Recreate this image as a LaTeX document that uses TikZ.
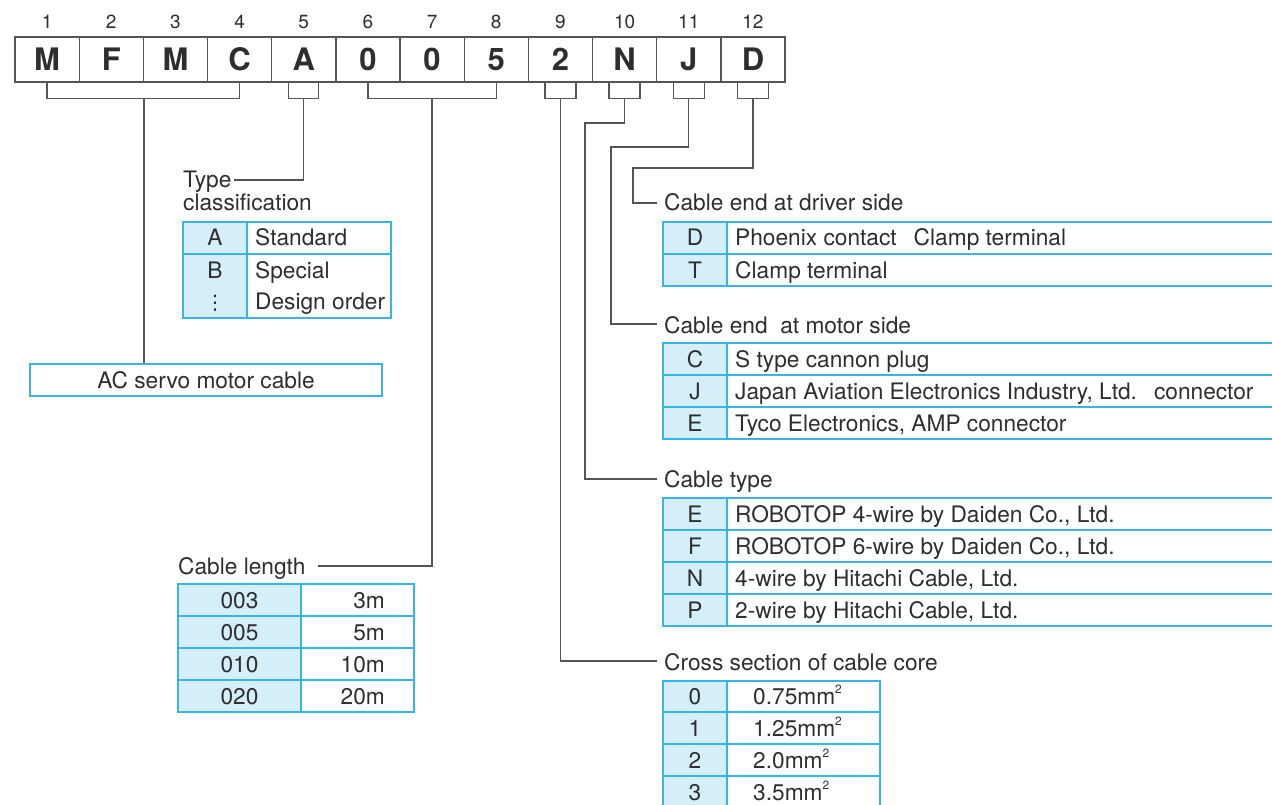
\documentclass[tikz,border=0pt]{standalone}
\usepackage{fontspec}
\setmainfont{TeX Gyre Heros}
\newfontfamily\dejavu{DejaVu Sans}
\definecolor{txt}{HTML}{2E2E2E}
\definecolor{ln}{HTML}{555555}
\definecolor{bd}{HTML}{38B4E8}
\definecolor{fl}{HTML}{D4EEFA}
\tikzset{
 conn/.style={draw=ln, line width=1.3pt},
 lbl/.style={anchor=base west, inner sep=0pt, text=txt, font=\fontsize{22.7}{26}\selectfont},
 keyt/.style={anchor=base, inner sep=0pt, text=txt, font=\fontsize{22.7}{26}\selectfont},
 valr/.style={anchor=base east, inner sep=0pt, text=txt, font=\fontsize{22.7}{26}\selectfont},
 codebox/.style={draw=ln, line width=1.3pt, minimum width=64.17pt, minimum height=45pt, inner sep=0pt, text=txt, font=\fontsize{31}{36}\selectfont\bfseries},
 numl/.style={inner sep=0pt, text=txt, font=\fontsize{19}{22}\selectfont},
 tbl/.style={draw=bd, line width=1.3pt},
}
\begin{document}
\begin{tikzpicture}[x=1pt,y=-1pt]
\useasboundingbox (0,0) rectangle (1272,805);
% code boxes
\foreach \i/\l in {1/M,2/F,3/M,4/C,5/A,6/0,7/0,8/5,9/2,10/N,11/J,12/D}{
  \node[codebox] (c\i) at ({15+(\i-0.5)*64.17},59.5) {\l};
  \node[numl] (n\i) at ({15+(\i-0.5)*64.17},22) {\i};
}
% brackets
\draw[conn] (c1.south) -- ++(0,16) -| (c4.south);
\draw[conn] ([xshift=-15pt]c5.south) -- ++(0,16) -| ([xshift=15pt]c5.south);
\draw[conn] (c6.south) -- ++(0,16) -| (c8.south);
\foreach \i in {9,10,11,12}{
  \draw[conn] ([xshift=-15.5pt]c\i.south) -- ++(0,16) -| ([xshift=15.5pt]c\i.south);
}
\coordinate (s14) at ([yshift=-16pt]c2.south east);
\coordinate (s5) at ([yshift=-16pt]c5.south);
\coordinate (s68) at ([yshift=-16pt]c7.south);
\coordinate (s9) at ([yshift=-16pt]c9.south);
\coordinate (s10) at ([yshift=-16pt]c10.south);
\coordinate (s11) at ([yshift=-16pt]c11.south);
\coordinate (s12) at ([yshift=-16pt]c12.south);

% AC servo motor cable
\node[draw=bd, line width=1.3pt, minimum width=352pt, minimum height=32pt, inner sep=0pt, text=txt, font=\fontsize{22.7}{26}\selectfont] (ac) at (206,380) {AC servo motor cable};
\draw[conn] (s14) -- (s14 |- ac.north);

% Type classification
\node[lbl] (typeL) at (183,188) {Type};
\node[lbl] (classL) at (183,211) {classification};
\coordinate (t5) at (234,180);
\draw[conn] (s5) |- (t5);
\fill[fl] (183,222) rectangle (247,318);
\draw[tbl] (183,222) rectangle (391,318);
\draw[tbl] (183,254) -- (391,254) (247,222) -- (247,318);
\node[keyt] (tA) at (215,246) {A};
\node[keyt] (tB) at (215,278) {B};
\node[keyt, font=\fontsize{20}{24}\dejavu] (tD) at (215,309) {⋮};
\node[lbl] (tAv) at (255,246) {Standard};
\node[lbl] (tBv) at (255,278) {Special};
\node[lbl] (tDv) at (255,309) {Design order};

% Cable length
\node[lbl] (lenL) at (178,574) {Cable length};
\coordinate (t68) at (318,566);
\draw[conn] (s68) |- (t68);
\fill[fl] (178,584) rectangle (301,712);
\draw[tbl] (178,584) rectangle (414,712);
\draw[tbl] (178,616) -- (414,616) (178,648) -- (414,648) (178,680) -- (414,680) (301,584) -- (301,712);
\foreach \k/\v/\y [count=\j] in {003/3m/608,005/5m/640,010/10m/672,020/20m/704}{
  \node[keyt] (lk\j) at (239.5,\y) {\k};
  \node[valr] (lv\j) at (385,\y) {\v};
}

% Driver side
\node[lbl] (drvL) at (664,211) {Cable end at driver side};
\coordinate (t12a) at (633,168);
\coordinate (t12) at (657,203);
\draw[conn] (s12) |- (t12a) |- (t12);
\fill[fl] (663,222) rectangle (727,286);
\draw[tbl] (663,222) rectangle (1280,286);
\draw[tbl] (663,254) -- (1280,254) (727,222) -- (727,286);
\node[keyt] (dk1) at (695,246) {D};
\node[lbl] (dv1) at (735,246) {Phoenix contact\hspace{0.75em}Clamp terminal};
\node[keyt] (dk2) at (695,278) {T};
\node[lbl] (dv2) at (735,278) {Clamp terminal};

% Motor side
\node[lbl] (motL) at (664,333) {Cable end\ \ at motor side};
\coordinate (t11a) at (611,147);
\coordinate (t11) at (657,324);
\draw[conn] (s11) |- (t11a) |- (t11);
\fill[fl] (663,343) rectangle (727,439);
\draw[tbl] (663,343) rectangle (1280,439);
\draw[tbl] (663,375) -- (1280,375) (663,407) -- (1280,407) (727,343) -- (727,439);
\foreach \k/\v/\y [count=\j] in {C/S type cannon plug/367,J/{Japan Aviation Electronics Industry, Ltd.\hspace{0.75em}connector}/399,E/{Tyco Electronics, AMP connector}/431}{
  \node[keyt] (mk\j) at (695,\y) {\k};
  \node[lbl] (mv\j) at (735,\y) {\v};
}

% Cable type
\node[lbl] (typL) at (664,487) {Cable type};
\coordinate (t10a) at (585,123);
\coordinate (t10) at (657,479);
\draw[conn] (s10) |- (t10a) |- (t10);
\fill[fl] (663,498) rectangle (727,626);
\draw[tbl] (663,498) rectangle (1280,626);
\draw[tbl] (663,530) -- (1280,530) (663,562) -- (1280,562) (663,594) -- (1280,594) (727,498) -- (727,626);
\foreach \k/\v/\y [count=\j] in {E/{ROBOTOP 4-wire by Daiden Co., Ltd.}/522,F/{ROBOTOP 6-wire by Daiden Co., Ltd.}/554,N/{4-wire by Hitachi Cable, Ltd.}/586,P/{2-wire by Hitachi Cable, Ltd.}/618}{
  \node[keyt] (yk\j) at (695,\y) {\k};
  \node[lbl] (yv\j) at (735,\y) {\v};
}

% Cross section
\node[lbl] (crsL) at (664,670) {Cross section of cable core};
\coordinate (t9) at (657,661);
\draw[conn] (s9) |- (t9);
\fill[fl] (663,681) rectangle (727,812);
\draw[tbl] (663,681) rectangle (880,812);
\draw[tbl] (663,712) -- (880,712) (663,744) -- (880,744) (663,776) -- (880,776) (727,681) -- (727,812);
\foreach \k/\v/\y [count=\j] in {0/0.75/704,1/1.25/736,2/2.0/768,3/3.5/800}{
  \node[keyt] (xk\j) at (695,\y) {\k};
  \node[lbl] (xv\j) at (753,\y) {\v mm\raisebox{0.45em}{\fontsize{12}{14}\selectfont 2}};
}
\end{tikzpicture}
\end{document}
